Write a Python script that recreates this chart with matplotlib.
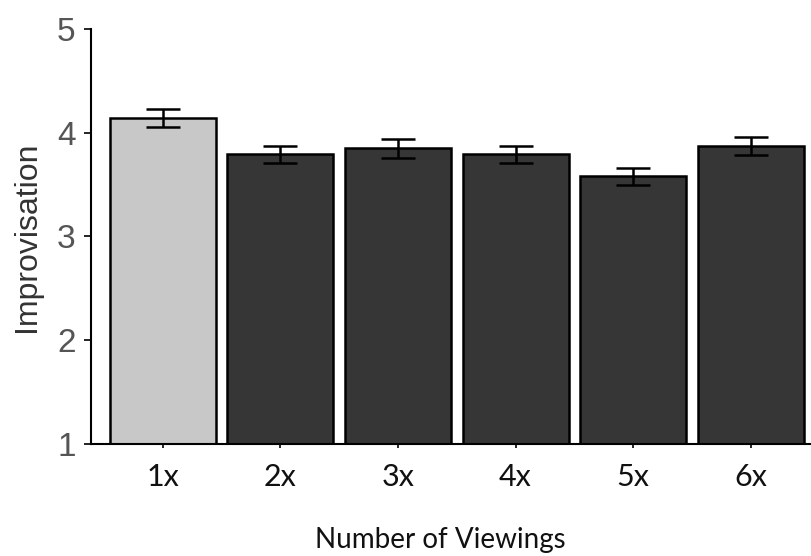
import numpy as np
import matplotlib.pyplot as plt

labels = ['1x', '2x', '3x', '4x', '5x', '6x']
means = [4.14, 3.79, 3.85, 3.79, 3.58, 3.87]
errors = [0.085, 0.085, 0.09, 0.085, 0.08, 0.085]
colors = ['#c8c8c8', '#363636', '#363636', '#363636', '#363636', '#363636']

fig = plt.figure(figsize=(8.12, 5.56), dpi=100)
ax = fig.add_axes([0.112, 0.2014, 0.888, 0.7466])

x = np.arange(len(labels))
ax.bar(x, np.array(means) - 1, bottom=1, width=0.9, color=colors,
       edgecolor='black', linewidth=1.8)
ax.errorbar(x, means, yerr=errors, fmt='none', ecolor='black',
            elinewidth=1.8, capsize=12, capthick=1.8)

ax.set_xlim(-0.61, 5.52)
ax.set_ylim(1, 5)
ax.set_yticks([1, 2, 3, 4, 5])
ax.set_xticks(x)
ax.set_xticklabels(labels, fontfamily='Lato', fontsize=22, color='#111111')
for tl in ax.get_yticklabels():
    tl.set_fontfamily('Liberation Sans')
    tl.set_fontsize(24)
    tl.set_color('#555555')

ax.spines['top'].set_visible(False)
ax.spines['right'].set_visible(False)
ax.spines['left'].set_linewidth(1.5)
ax.spines['bottom'].set_linewidth(1.5)
ax.tick_params(axis='y', length=5, width=1.2, pad=6)
ax.tick_params(axis='x', length=3, width=1.2, pad=11)

ax.set_ylabel('Improvisation', fontfamily='Liberation Sans', fontsize=23,
              color='#333333', labelpad=11)
ax.set_xlabel('Number of Viewings', fontfamily='Lato', fontsize=20,
              color='#111111', labelpad=22)
ax.xaxis.set_label_coords(0.484, -0.2)

plt.savefig('out.png', dpi=100)
plt.close()
